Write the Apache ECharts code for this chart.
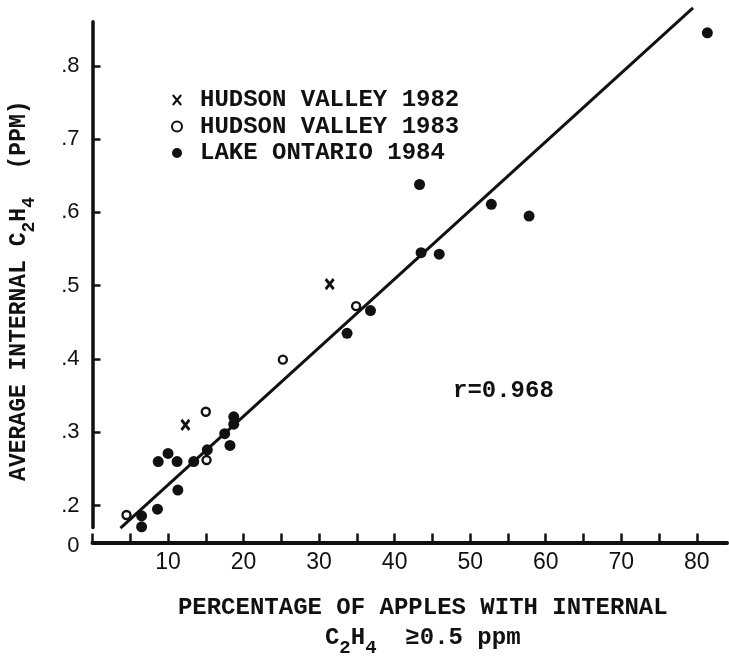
<!DOCTYPE html>
<html lang="en">
<head>
    <meta charset="UTF-8">
    <title>Internal ethylene</title>
    <script src="https://cdn.jsdelivr.net/npm/echarts@6/dist/echarts.min.js"></script>
</head>
<body style="margin:0;background:#fff">
<div id="container" style="width:729px;height:663px"></div>

<script type="text/javascript">
    // data: [percentage, average internal C2H4]
    var hudson82 = [[12.3, 0.310], [31.4, 0.502]];
    var hudson83 = [[4.5, 0.187], [15.0, 0.328], [15.1, 0.262], [25.2, 0.399], [34.9, 0.472]];
    var ontario84 = [
        [6.5, 0.186], [6.5, 0.171], [8.6, 0.195], [8.7, 0.260], [10.0, 0.271],
        [11.2, 0.260], [11.3, 0.221], [13.4, 0.260], [15.2, 0.276], [17.5, 0.298],
        [18.2, 0.282], [18.7, 0.321], [18.7, 0.311], [33.7, 0.435], [36.8, 0.466],
        [43.3, 0.638], [43.5, 0.545], [45.9, 0.543], [52.8, 0.611], [57.8, 0.595],
        [81.4, 0.845]
    ];
    var fitLine = [[3.7, 0.169], [79.5, 0.879]];
    var xTicks = [0, 5, 10, 15, 20, 25, 30, 35, 40, 45, 50, 55, 60, 65, 70, 75, 80];
    var xLabels = [10, 20, 30, 40, 50, 60, 70, 80];
    var yTicks = [0.2, 0.3, 0.4, 0.5, 0.6, 0.7, 0.8];
    var yLabels = [0.17, 0.2, 0.3, 0.4, 0.5, 0.6, 0.7, 0.8];

    var ink = '#111';
    var mono = 'Liberation Mono';

    var dom = document.getElementById('container');
    var myChart = echarts.init(dom, null, { renderer: 'canvas' });

    var option = {
        backgroundColor: '#fff',
        animation: false,
        grid: { left: 92, right: 2, top: 21.8, bottom: 132.6 },
        title: {
            text: 'r=0.968',
            left: 448, top: 374,
            textStyle: { fontFamily: mono, fontWeight: 'bold', fontSize: 24, lineHeight: 24, color: ink }
        },
        legend: {
            orient: 'vertical',
            left: 166, top: 83,
            itemWidth: 12, itemHeight: 10, itemGap: 2.5,
            data: ['HUDSON VALLEY 1982', 'HUDSON VALLEY 1983', 'LAKE ONTARIO 1984'],
            textStyle: { fontFamily: mono, fontWeight: 'bold', fontSize: 24, lineHeight: 24, color: ink, padding: [0, 0, 0, 12] }
        },
        xAxis: {
            type: 'value',
            min: 0, max: 84,
            offset: 15,
            axisLine: { lineStyle: { color: ink, width: 4 } },
            axisTick: { inside: true, length: 9, customValues: xTicks, lineStyle: { color: ink, width: 2.5 } },
            axisLabel: { customValues: xLabels, margin: 9, fontFamily: 'Liberation Sans', fontSize: 23, color: ink },
            splitLine: { show: false },
            name: 'PERCENTAGE OF APPLES WITH INTERNAL\n{m|C}{s|2}{m|H}{s|4}{m|  ≥0.5 ppm}',
            nameLocation: 'middle',
            nameGap: 50,
            nameTextStyle: {
                fontFamily: mono, fontWeight: 'bold', fontSize: 24, lineHeight: 30, color: ink,
                padding: [0, 0, 0, 26],
                rich: {
                    m: { fontFamily: mono, fontWeight: 'bold', fontSize: 24, color: ink },
                    s: { fontFamily: mono, fontWeight: 'bold', fontSize: 19, color: ink, padding: [22, 0, 0, 0] }
                }
            }
        },
        yAxis: {
            type: 'value',
            min: 0.17, max: 0.86,
            axisLine: { show: true, lineStyle: { color: ink, width: 3.5 } },
            axisTick: { show: true, inside: true, length: 8, customValues: yTicks, lineStyle: { color: ink, width: 2.5 } },
            axisLabel: {
                customValues: yLabels, margin: 13, fontFamily: 'Liberation Sans', fontSize: 22, color: ink,
                formatter: function (v) {
                    if (v < 0.19) return '{z|0}';
                    return '.' + Math.round(v * 10);
                },
                rich: { z: { fontFamily: 'Liberation Sans', fontSize: 22, color: ink, padding: [36, 0, 0, 0] } }
            },
            splitLine: { show: false },
            name: '{m|AVERAGE INTERNAL C}{s|2}{m|H}{s|4}{m|  (PPM)}',
            nameLocation: 'middle',
            nameRotate: 90,
            nameGap: 54,
            nameTextStyle: {
                padding: [0, 32, 0, 0],
                rich: {
                    m: { fontFamily: mono, fontWeight: 'bold', fontSize: 23, color: ink },
                    s: { fontFamily: mono, fontWeight: 'bold', fontSize: 18, color: ink, padding: [20, 0, 0, 0] }
                }
            }
        },
        series: [
            {
                name: 'HUDSON VALLEY 1982',
                type: 'scatter',
                symbol: 'path://M0,0L10,12M10,0L0,12',
                symbolSize: [8, 10],
                clip: false,
                itemStyle: { color: ink, borderColor: ink, borderWidth: 3, opacity: 1 },
                data: hudson82
            },
            {
                name: 'HUDSON VALLEY 1983',
                type: 'scatter',
                symbol: 'circle',
                symbolSize: 8,
                clip: false,
                itemStyle: { color: '#fff', borderColor: ink, borderWidth: 2.4, opacity: 1 },
                data: hudson83
            },
            {
                name: 'LAKE ONTARIO 1984',
                type: 'scatter',
                symbol: 'circle',
                symbolSize: 11,
                clip: false,
                itemStyle: { color: ink, opacity: 1 },
                data: ontario84
            },
            {
                name: 'fit',
                type: 'line',
                symbol: 'none',
                clip: false,
                z: 1,
                lineStyle: { color: ink, width: 3 },
                data: fitLine
            }
        ]
    };

    myChart.setOption(option);
    window.addEventListener('resize', myChart.resize);
</script>
</body>
</html>
